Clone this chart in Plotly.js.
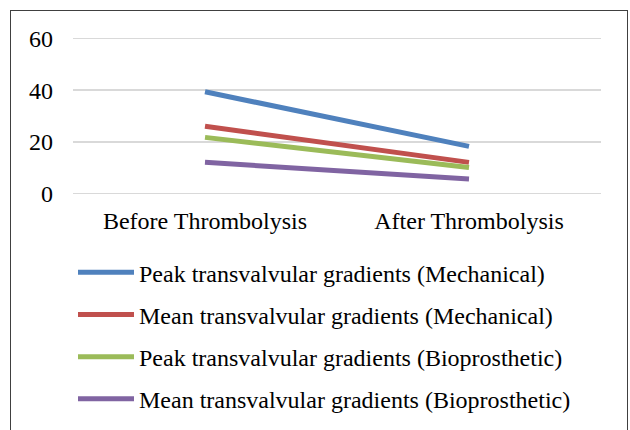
<!DOCTYPE html>
<html>
<head>
<meta charset="utf-8">
<script src="https://cdn.plot.ly/plotly-3.0.1.min.js"></script>
<style>
html,body{margin:0;padding:0;background:#fff;}
#frame{position:absolute;left:10px;top:10px;width:618px;height:430px;border:1.5px solid #404040;box-sizing:border-box;}
#chart{position:absolute;left:0;top:0;width:630px;height:430px;}
</style>
</head>
<body>
<div id="frame"></div>
<div id="chart"></div>
<script>
const categories = ["Before Thrombolysis", "After Thrombolysis"];
const seriesNames = [
  "Peak transvalvular gradients (Mechanical)",
  "Mean transvalvular gradients (Mechanical)",
  "Peak transvalvular gradients (Bioprosthetic)",
  "Mean transvalvular gradients (Bioprosthetic)"
];
const peakMechanical = [39.4, 18.2];
const meanMechanical = [26, 12];
const peakBioprosthetic = [21.7, 10];
const meanBioprosthetic = [12, 5.5];
const yTicks = [0, 20, 40, 60];

const colors = ["#4F81BD", "#C0504D", "#9BBB59", "#8064A2"];
const seriesValues = [peakMechanical, meanMechanical, peakBioprosthetic, meanBioprosthetic];

const traces = seriesValues.map((vals, i) => ({
  type: "scatter",
  mode: "lines",
  x: categories,
  y: vals,
  name: seriesNames[i],
  legendgroup: "g" + i,
  line: {color: colors[i], width: 5}
}));

const font = {family: "'Liberation Serif', 'Times New Roman', serif", size: 24, color: "#000"};

const layout = {
  width: 630,
  height: 430,
  margin: {l: 73, r: 29, t: 31, b: 229, autoexpand: false},
  paper_bgcolor: "rgba(0,0,0,0)",
  plot_bgcolor: "rgba(0,0,0,0)",
  font: font,
  showlegend: true,
  legend: {
    x: 0.0, xanchor: "left",
    y: -0.289, yanchor: "top",
    orientation: "v",
    font: font,
    tracegroupgap: 8,
    bgcolor: "rgba(0,0,0,0)",
    itemwidth: 56
  },
  xaxis: {
    type: "category",
    showgrid: false,
    zeroline: false,
    showline: false,
    ticks: "",
    ticklabelstandoff: 3,
    tickfont: font,
    range: [-0.5, 1.5]
  },
  yaxis: {
    range: [-3, 63],
    tickvals: yTicks,
    ticktext: yTicks.map(String),
    showgrid: true,
    gridcolor: "#d9d9d9",
    gridwidth: 1.5,
    zeroline: false,
    showline: false,
    ticks: "",
    ticklabelstandoff: 19,
    tickfont: font
  }
};

Plotly.newPlot("chart", traces, layout, {displayModeBar: false, staticPlot: true});
</script>
</body>
</html>
